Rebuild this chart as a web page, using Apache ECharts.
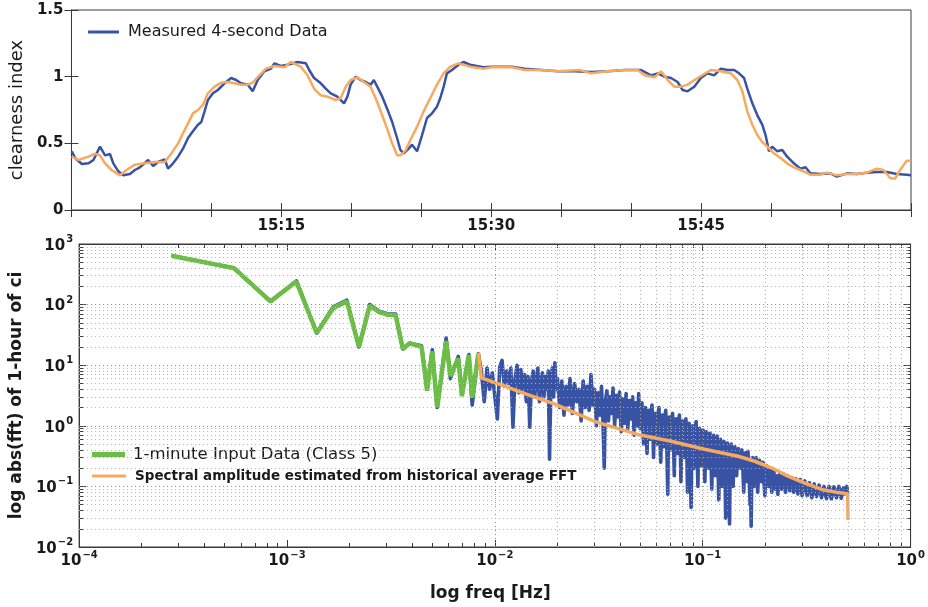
<!DOCTYPE html>
<html><head><meta charset="utf-8">
<script src="https://cdn.jsdelivr.net/npm/echarts@6/dist/echarts.min.js"></script>
<style>html,body{margin:0;padding:0;background:#fff}#c{width:928px;height:607px}</style>
</head><body><div id="c"></div>
<script>
// ---------- Top panel: clearness index (x = minutes after 15:00) ----------
const measured4s = [[0.02,0.44],[0.26,0.39],[0.74,0.345],[1.21,0.35],[1.57,0.375],[2.04,0.475],[2.40,0.41],[2.75,0.42],[2.99,0.35],[3.35,0.29],[3.70,0.26],[4.18,0.27],[4.53,0.30],[4.89,0.32],[5.48,0.375],[5.84,0.33],[6.19,0.36],[6.67,0.38],[6.90,0.31],[7.26,0.35],[7.62,0.40],[7.97,0.46],[8.33,0.54],[8.68,0.59],[9.04,0.64],[9.28,0.66],[9.51,0.74],[9.75,0.825],[10.11,0.875],[10.46,0.90],[10.94,0.95],[11.41,0.99],[11.77,0.975],[12.12,0.95],[12.60,0.94],[12.95,0.89],[13.31,0.975],[13.78,1.04],[14.26,1.06],[14.50,1.10],[14.97,1.08],[15.44,1.09],[16.16,1.11],[16.75,1.10],[16.99,1.05],[17.34,0.99],[17.82,0.95],[18.17,0.91],[18.53,0.875],[19.00,0.85],[19.48,0.80],[19.72,0.85],[19.95,0.94],[20.31,1.00],[20.66,0.975],[21.02,0.96],[21.38,0.94],[21.61,0.975],[21.85,0.925],[22.21,0.85],[22.56,0.76],[22.92,0.66],[23.27,0.54],[23.51,0.45],[23.75,0.425],[24.10,0.46],[24.34,0.49],[24.70,0.44],[25.05,0.56],[25.41,0.69],[25.77,0.725],[26.12,0.775],[26.36,0.84],[26.60,0.925],[26.83,1.025],[27.19,1.05],[27.66,1.09],[28.02,1.11],[28.49,1.09],[29.44,1.07],[30.04,1.075],[31.46,1.075],[32.41,1.06],[33.59,1.05],[34.78,1.04],[35.97,1.04],[37.15,1.035],[38.34,1.04],[39.53,1.05],[40.71,1.05],[41.42,1.01],[41.90,1.025],[42.37,1.00],[42.85,0.99],[43.32,0.96],[43.68,0.90],[44.03,0.89],[44.51,0.925],[44.98,0.99],[45.46,1.025],[45.93,1.01],[46.41,1.06],[46.88,1.05],[47.36,1.05],[47.71,1.025],[48.07,0.99],[48.30,0.91],[48.66,0.80],[49.02,0.71],[49.37,0.64],[49.61,0.56],[49.85,0.44],[50.08,0.475],[50.44,0.44],[50.80,0.45],[51.15,0.40],[51.63,0.35],[52.10,0.31],[52.46,0.32],[52.81,0.275],[53.52,0.27],[54.23,0.275],[54.71,0.25],[55.42,0.275],[56.13,0.27],[56.84,0.28],[57.56,0.285],[58.27,0.285],[58.98,0.27],[59.69,0.265],[60,0.26]];
const smoothedCI = [[0.02,0.40],[0.50,0.375],[1.21,0.40],[1.68,0.42],[2.04,0.41],[2.40,0.35],[2.87,0.30],[3.46,0.26],[3.94,0.30],[4.53,0.34],[5.24,0.35],[5.96,0.36],[6.67,0.36],[7.14,0.425],[7.62,0.50],[7.97,0.575],[8.33,0.65],[8.68,0.725],[9.04,0.75],[9.40,0.79],[9.75,0.875],[10.23,0.925],[10.70,0.955],[11.17,0.96],[11.65,0.95],[12.12,0.94],[12.60,0.94],[12.95,0.955],[13.43,1.01],[13.90,1.06],[14.50,1.08],[15.21,1.07],[15.68,1.11],[16.39,1.075],[16.87,1.01],[17.34,0.91],[17.82,0.86],[18.29,0.85],[18.88,0.825],[19.24,0.84],[19.60,0.925],[19.95,0.975],[20.43,0.995],[20.90,0.96],[21.38,0.925],[21.85,0.81],[22.21,0.71],[22.56,0.61],[22.92,0.50],[23.27,0.41],[23.51,0.41],[23.87,0.445],[24.22,0.525],[24.70,0.625],[25.17,0.74],[25.65,0.84],[26.12,0.94],[26.60,1.025],[27.07,1.075],[27.66,1.10],[28.49,1.075],[29.44,1.06],[30.04,1.07],[31.46,1.07],[32.41,1.05],[33.59,1.05],[34.78,1.04],[36.32,1.05],[37.15,1.025],[38.34,1.04],[39.53,1.05],[40.47,1.05],[40.95,1.01],[41.66,0.995],[42.14,1.04],[42.61,0.975],[43.08,0.925],[43.56,0.925],[44.03,0.94],[44.75,0.99],[45.69,1.05],[46.41,1.04],[47.12,1.025],[47.59,0.975],[47.95,0.89],[48.30,0.74],[48.66,0.64],[49.02,0.56],[49.37,0.51],[49.73,0.475],[50.20,0.425],[50.68,0.39],[51.15,0.35],[51.63,0.32],[52.10,0.30],[52.81,0.265],[53.52,0.265],[54.00,0.28],[54.71,0.26],[55.42,0.27],[56.13,0.27],[56.84,0.28],[57.56,0.31],[58.03,0.30],[58.51,0.24],[58.86,0.235],[59.22,0.30],[59.69,0.37],[60,0.37]];
const timeTickLabels = {15:'15:15', 30:'15:30', 45:'15:45'};

// ---------- Bottom panel: spectra (Hz, amplitude) ----------
const inputFreq = [2.78e-4,5.56e-4,8.33e-4,1.11e-3,1.39e-3,1.67e-3,1.94e-3,2.22e-3,2.50e-3,2.78e-3,3.06e-3,3.33e-3,3.61e-3,3.89e-3,4.17e-3,4.44e-3,4.72e-3,5.00e-3,5.28e-3,5.83e-3,6.11e-3,6.67e-3,6.94e-3,7.50e-3,7.78e-3,8.33e-3];
const inputAmp = [640,400,113,240,34,88,113,20,96,75,68,67,18.5,23,21.5,20,3.8,17,2.0,25,6.6,13,3.1,14.8,2.9,15.5];
const measuredAmpLow = [640,400,113,245,34,92,118,20,100,78,70,70,18.5,23,22,21,4.2,18,2.0,28,6.0,14,3.3,15,2.2,15.5];
const measuredSpecHigh = [[0.00861,8.0],[0.00889,2.5],[0.00917,9.0],[0.00944,4.0],[0.00972,7.5],[0.0100,3.0],[0.01028,1.3],[0.01056,9.5],[0.01083,12.0],[0.01111,4.5],[0.01139,8.0],[0.01167,5.0],[0.01194,9.0],[0.01222,0.95],[0.01250,6.0],[0.01278,10.0],[0.01306,3.5],[0.01333,8.5],[0.01361,4.0],[0.01389,7.0],[0.01417,2.5],[0.01444,6.5],[0.01472,0.95],[0.01500,5.5],[0.01528,8.0],[0.01556,3.0],[0.01583,6.0],[0.01611,9.0],[0.01639,2.5],[0.01667,5.0],[0.01694,7.5],[0.01722,3.0],[0.01750,6.5],[0.01778,4.0],[0.01806,8.0],[0.01833,0.28],[0.01861,5.0],[0.01889,9.0],[0.01917,3.0],[0.01944,11.0],[0.01972,4.0],[0.02000,6.0],
[0.0205,2.0],[0.0210,5.5],[0.0215,1.5],[0.0220,4.5],[0.0225,2.2],[0.0230,6.0],[0.0236,1.6],[0.0242,5.0],[0.0248,2.5],[0.0254,4.0],[0.0260,1.2],[0.0266,5.5],[0.0272,2.0],[0.0278,4.5],[0.0284,1.8],[0.0290,7.0],[0.0296,2.2],[0.0302,4.0],[0.0308,1.0],[0.0314,3.5],[0.0320,1.5],[0.0326,4.5],[0.0332,0.9],[0.0336,0.20],[0.0340,2.5],[0.0346,3.8],[0.0352,1.2],[0.0358,3.0],[0.0364,1.6],[0.0370,4.2],[0.0377,1.0],[0.0384,3.2],[0.0391,1.4],[0.0398,3.6],[0.0405,0.8],[0.0412,2.8],[0.0420,1.1],[0.0428,3.4],[0.0436,0.9],[0.0444,2.6],[0.0452,1.3],[0.0460,3.0],[0.0468,0.7],[0.0476,2.4],[0.0484,1.0],[0.0492,3.4],[0.0500,0.9],
[0.0510,2.4],[0.0515,0.9],[0.0520,0.5],[0.0525,1.6],[0.0530,2.0],[0.0535,0.8],[0.0540,0.35],[0.0545,1.4],[0.0550,1.8],[0.0555,0.9],[0.0560,0.6],[0.0565,1.7],[0.0570,2.2],[0.0575,1.0],[0.0580,0.3],[0.0586,1.3],[0.0592,1.6],[0.0598,0.8],[0.0604,0.5],[0.0610,1.5],[0.0616,2.0],[0.0622,0.7],[0.0628,0.25],[0.0634,1.2],[0.0640,1.5],[0.0646,0.8],[0.0652,0.45],[0.0658,1.4],[0.0664,1.8],[0.0671,0.6],[0.0679,0.074],[0.0684,0.9],[0.0690,1.4],[0.0696,0.7],[0.0702,0.4],[0.0709,1.3],[0.0716,1.6],[0.0723,0.6],[0.0730,0.15],[0.0737,0.9],[0.0744,1.3],[0.0751,0.6],[0.0758,0.35],[0.0765,1.2],[0.0772,1.5],[0.0779,0.5],[0.0786,0.12],[0.0793,0.8],[0.0800,1.2],[0.0807,0.6],[0.0815,0.3],[0.0822,1.0],[0.0830,1.3],[0.0838,0.5],[0.0845,0.08],[0.0852,0.7],[0.0860,1.1],[0.0869,0.4],[0.0879,0.045],[0.0887,0.6],[0.0895,1.0],[0.0902,0.5],[0.0910,0.2],[0.0920,0.8],[0.0930,1.18],[0.0939,0.4],[0.0948,0.1],[0.0957,0.6],[0.0966,0.9],[0.0975,0.45],[0.0985,0.22],[0.0994,0.7],[0.1004,0.85],[0.1014,0.35],[0.1024,0.12],[0.1034,0.6],[0.1044,0.8],[0.1054,0.4],[0.1064,0.2],[0.1074,0.55],[0.1085,0.75],[0.1095,0.3],[0.1106,0.09],[0.1117,0.5],[0.1128,0.7],[0.1139,0.35],[0.1150,0.15],[0.1161,0.45],[0.1172,0.68],[0.1183,0.25],[0.1195,0.06],[0.1206,0.4],[0.1218,0.6],[0.1230,0.3],[0.1242,0.1],[0.1254,0.4],[0.1266,0.55],[0.1278,0.2],[0.1290,0.03],[0.1302,0.35],[0.1315,0.52],[0.1330,0.2],[0.1346,0.024],[0.1359,0.3],[0.1372,0.5],[0.1386,0.25],[0.1400,0.1],[0.1414,0.3],[0.1428,0.45],[0.1442,0.25],[0.1456,0.15],[0.1470,0.3],[0.1485,0.42],
[0.1500,0.3],[0.1515,0.2],[0.1530,0.3],[0.1545,0.4],[0.1560,0.2],[0.1575,0.08],[0.1590,0.25],[0.1606,0.36],[0.1622,0.2],[0.1638,0.12],[0.1644,0.3],[0.1650,0.38],[0.1670,0.2],[0.1690,0.05],[0.1700,0.12],[0.1710,0.022],[0.1722,0.15],[0.1735,0.3],[0.1752,0.18],[0.1770,0.1],[0.1787,0.2],[0.1805,0.3],[0.1822,0.15],[0.1840,0.08],[0.1858,0.18],[0.1876,0.27],[0.1895,0.17],[0.1913,0.12],[0.1931,0.2],[0.1950,0.25],[0.1970,0.12],[0.1990,0.07],[0.2010,0.16],[0.2030,0.22],[0.2050,0.15],[0.2070,0.1],[0.2090,0.16],[0.2110,0.2],[0.2130,0.12],[0.2150,0.08],[0.2172,0.14],[0.2195,0.19],[0.2218,0.12],[0.2240,0.09],[0.2270,0.15],[0.2300,0.074],[0.2325,0.12],[0.2350,0.17],[0.2375,0.11],[0.2400,0.09],[0.2425,0.13],[0.2450,0.16],[0.2475,0.11],[0.2500,0.08],[0.2530,0.12],[0.2560,0.15],[0.2590,0.1],[0.2620,0.085],[0.2650,0.12],[0.2680,0.14],[0.2710,0.1],[0.2740,0.08],[0.2770,0.11],[0.2800,0.135],[0.2835,0.1],[0.2870,0.075],[0.2905,0.11],[0.2940,0.13],[0.2975,0.09],[0.3010,0.07],[0.3055,0.1],[0.3100,0.123],[0.3140,0.09],[0.3180,0.07],[0.3220,0.1],[0.3260,0.115],[0.3305,0.085],[0.3350,0.065],[0.3395,0.09],[0.3440,0.11],[0.3485,0.08],[0.3530,0.068],[0.3580,0.09],[0.3630,0.105],[0.3680,0.08],[0.3730,0.065],[0.3780,0.085],[0.3830,0.1],[0.3885,0.075],[0.3940,0.063],[0.3995,0.085],[0.4050,0.1],[0.4105,0.075],[0.4160,0.062],[0.4220,0.085],[0.4280,0.098],[0.4340,0.075],[0.4400,0.065],[0.4460,0.085],[0.4520,0.1],[0.4580,0.075],[0.4640,0.064],[0.4700,0.085],[0.4760,0.095],[0.4820,0.075],[0.4880,0.07],[0.4910,0.09],[0.4940,0.1],[0.4970,0.08],[0.5000,0.075]];
const historicalSpec = [[0.00833,16],[0.00861,6.2],[0.0110,4.6],[0.0133,3.6],[0.0193,2.3],[0.0306,1.16],[0.0487,0.72],[0.0705,0.555],[0.102,0.41],[0.148,0.315],[0.178,0.26],[0.214,0.203],[0.257,0.148],[0.31,0.113],[0.373,0.089],[0.449,0.079],[0.498,0.076],[0.5,0.028]];
const freqDecades = [-4,-3,-2,-1];
const ampDecades = [-2,-1,0,1,2];

// ---------- chart ----------
const FONT = 'DejaVu Sans';
const TXT = '#1a1a1a';
const AX = '#3a3a3a';
const BLUE = '#3953a4', ORANGE = '#f9a95e', GREEN = '#6cbd45';

function powLabel(v){
  const e = Math.round(Math.log10(v));
  return '{b|10}{s|' + (e < 0 ? '\u2212' + (-e) : String(e)) + '}';
}
const powRich = {
  b:{fontFamily:FONT,fontSize:15,fontWeight:'bold',color:TXT,verticalAlign:'bottom'},
  s:{fontFamily:FONT,fontSize:10,fontWeight:'bold',color:TXT,verticalAlign:'bottom',padding:[0,0,9,1]}
};

const gridMarks = [];
freqDecades.forEach(e => { for (let m = 1; m <= 9; m++) { if (e === -4 && m === 1) continue;
  gridMarks.push({xAxis: m * Math.pow(10, e), lineStyle:{color: m === 1 ? '#8a8a8a' : '#b0b0b0'}}); } });
ampDecades.forEach(e => { for (let m = 1; m <= 9; m++) { if (e === -2 && m === 1) continue;
  gridMarks.push({yAxis: m * Math.pow(10, e), lineStyle:{color: m === 1 ? '#8a8a8a' : '#b0b0b0'}}); } });

const measuredSpec = inputFreq.map((f, i) => [f, measuredAmpLow[i]]).concat(measuredSpecHigh);
const inputSpec = inputFreq.map((f, i) => [f, inputAmp[i]]);

const tickCommon = {inside:true, length:7, lineStyle:{color:AX, width:1}};
const minorCommon = {show:true, splitNumber:9, length:4, lineStyle:{color:AX, width:1}};
const lineCommon = {show:true, lineStyle:{color:AX, width:1}};

const option = {
  animation:false,
  backgroundColor:'#fff',
  grid:[
    {left:68, top:10, width:843, height:200, show:true, borderColor:AX, borderWidth:1, backgroundColor:'transparent'},
    {left:73, top:244, width:838, height:308, show:true, borderColor:AX, borderWidth:1, backgroundColor:'transparent'}
  ],
  legend:[
    {left:88, top:24, padding:0, itemWidth:31, itemHeight:3, icon:'rect', data:['Measured 4-second Data'],
     textStyle:{fontFamily:FONT, fontSize:16, color:TXT, padding:[0,0,0,4]}},
    {left:92, top:446, padding:0, itemWidth:33, itemHeight:5, icon:'rect', data:['1-minute Input Data (Class 5)'],
     textStyle:{fontFamily:FONT, fontSize:16.5, color:TXT, padding:[0,0,0,3]}},
    {left:92, top:469, padding:0, itemWidth:34, itemHeight:3, icon:'rect', data:['Spectral amplitude estimated from historical average FFT'],
     textStyle:{fontFamily:FONT, fontSize:13.5, fontWeight:'bold', color:TXT, padding:[0,0,0,4]}}
  ],
  xAxis:[
    {gridIndex:0, type:'value', min:0, max:60, interval:5, axisLine:lineCommon, axisTick:tickCommon,
     splitLine:{show:false},
     axisLabel:{formatter:v => timeTickLabels[v] || '', margin:9, fontFamily:FONT, fontSize:15, fontWeight:'bold', color:TXT, showMinLabel:true, showMaxLabel:true}},
    {gridIndex:0, type:'value', position:'top', min:0, max:60, interval:5, axisLine:lineCommon, axisTick:tickCommon,
     splitLine:{show:false}, axisLabel:{show:false}},
    {gridIndex:1, type:'log', logBase:10, min:1e-4, max:1, axisLine:lineCommon, axisTick:tickCommon, minorTick:minorCommon,
     splitLine:{show:false},
     name:'log freq [Hz]', nameLocation:'middle', nameGap:38,
     nameTextStyle:{fontFamily:FONT, fontSize:17, fontWeight:'bold', color:TXT, padding:[0,9,0,0]},
     axisLabel:{formatter:powLabel, rich:powRich, margin:3}},
    {gridIndex:1, type:'log', logBase:10, position:'top', min:1e-4, max:1, axisLine:lineCommon, axisTick:tickCommon, minorTick:minorCommon,
     splitLine:{show:false}, axisLabel:{show:false}}
  ],
  yAxis:[
    {gridIndex:0, type:'value', min:0, max:1.5, interval:0.5, axisLine:lineCommon, axisTick:tickCommon,
     splitLine:{show:false},
     name:'clearness index', nameLocation:'middle', nameGap:42,
     nameTextStyle:{fontFamily:FONT, fontSize:18, color:TXT},
     axisLabel:{margin:8, fontFamily:FONT, fontSize:15, fontWeight:'bold', color:TXT}},
    {gridIndex:0, type:'value', position:'right', min:0, max:1.5, interval:0.5, axisLine:lineCommon, axisTick:tickCommon,
     splitLine:{show:false}, axisLabel:{show:false}},
    {gridIndex:1, type:'log', logBase:10, min:0.01, max:1000, axisLine:lineCommon, axisTick:tickCommon, minorTick:minorCommon,
     splitLine:{show:false},
     name:'log abs(fft) of 1-hour of ci', nameLocation:'middle', nameGap:43,
     nameTextStyle:{fontFamily:FONT, fontSize:17, fontWeight:'bold', color:TXT},
     axisLabel:{formatter:powLabel, rich:powRich, margin:6}},
    {gridIndex:1, type:'log', logBase:10, position:'right', min:0.01, max:1000, axisLine:lineCommon, axisTick:tickCommon, minorTick:minorCommon,
     splitLine:{show:false}, axisLabel:{show:false}}
  ],
  series:[
    {name:'Measured 4-second Data', type:'line', xAxisIndex:0, yAxisIndex:0, data:measured4s,
     showSymbol:false, color:BLUE, lineStyle:{width:2.5, color:BLUE}},
    {name:'smoothed', type:'line', xAxisIndex:0, yAxisIndex:0, data:smoothedCI,
     showSymbol:false, color:ORANGE, lineStyle:{width:2.5, color:ORANGE}},
    {name:'grid', type:'line', xAxisIndex:2, yAxisIndex:2, data:[], silent:true,
     markLine:{silent:true, symbol:'none', label:{show:false}, lineStyle:{type:[1,3], width:1, color:'#b0b0b0'}, data:gridMarks}},
    {name:'measured spectrum', type:'line', xAxisIndex:2, yAxisIndex:2, data:measuredSpec,
     showSymbol:false, color:BLUE, lineStyle:{width:3.6, color:BLUE, join:'round'}},
    {name:'1-minute Input Data (Class 5)', type:'line', xAxisIndex:2, yAxisIndex:2, data:inputSpec,
     showSymbol:false, color:GREEN, lineStyle:{width:4.5, color:GREEN}},
    {name:'Spectral amplitude estimated from historical average FFT', type:'line', xAxisIndex:2, yAxisIndex:2, data:historicalSpec,
     showSymbol:false, color:ORANGE, lineStyle:{width:3.5, color:ORANGE}}
  ]
};
const chart = echarts.init(document.getElementById('c'), null, {renderer:'canvas'});
chart.setOption(option);
</script>
</body></html>
